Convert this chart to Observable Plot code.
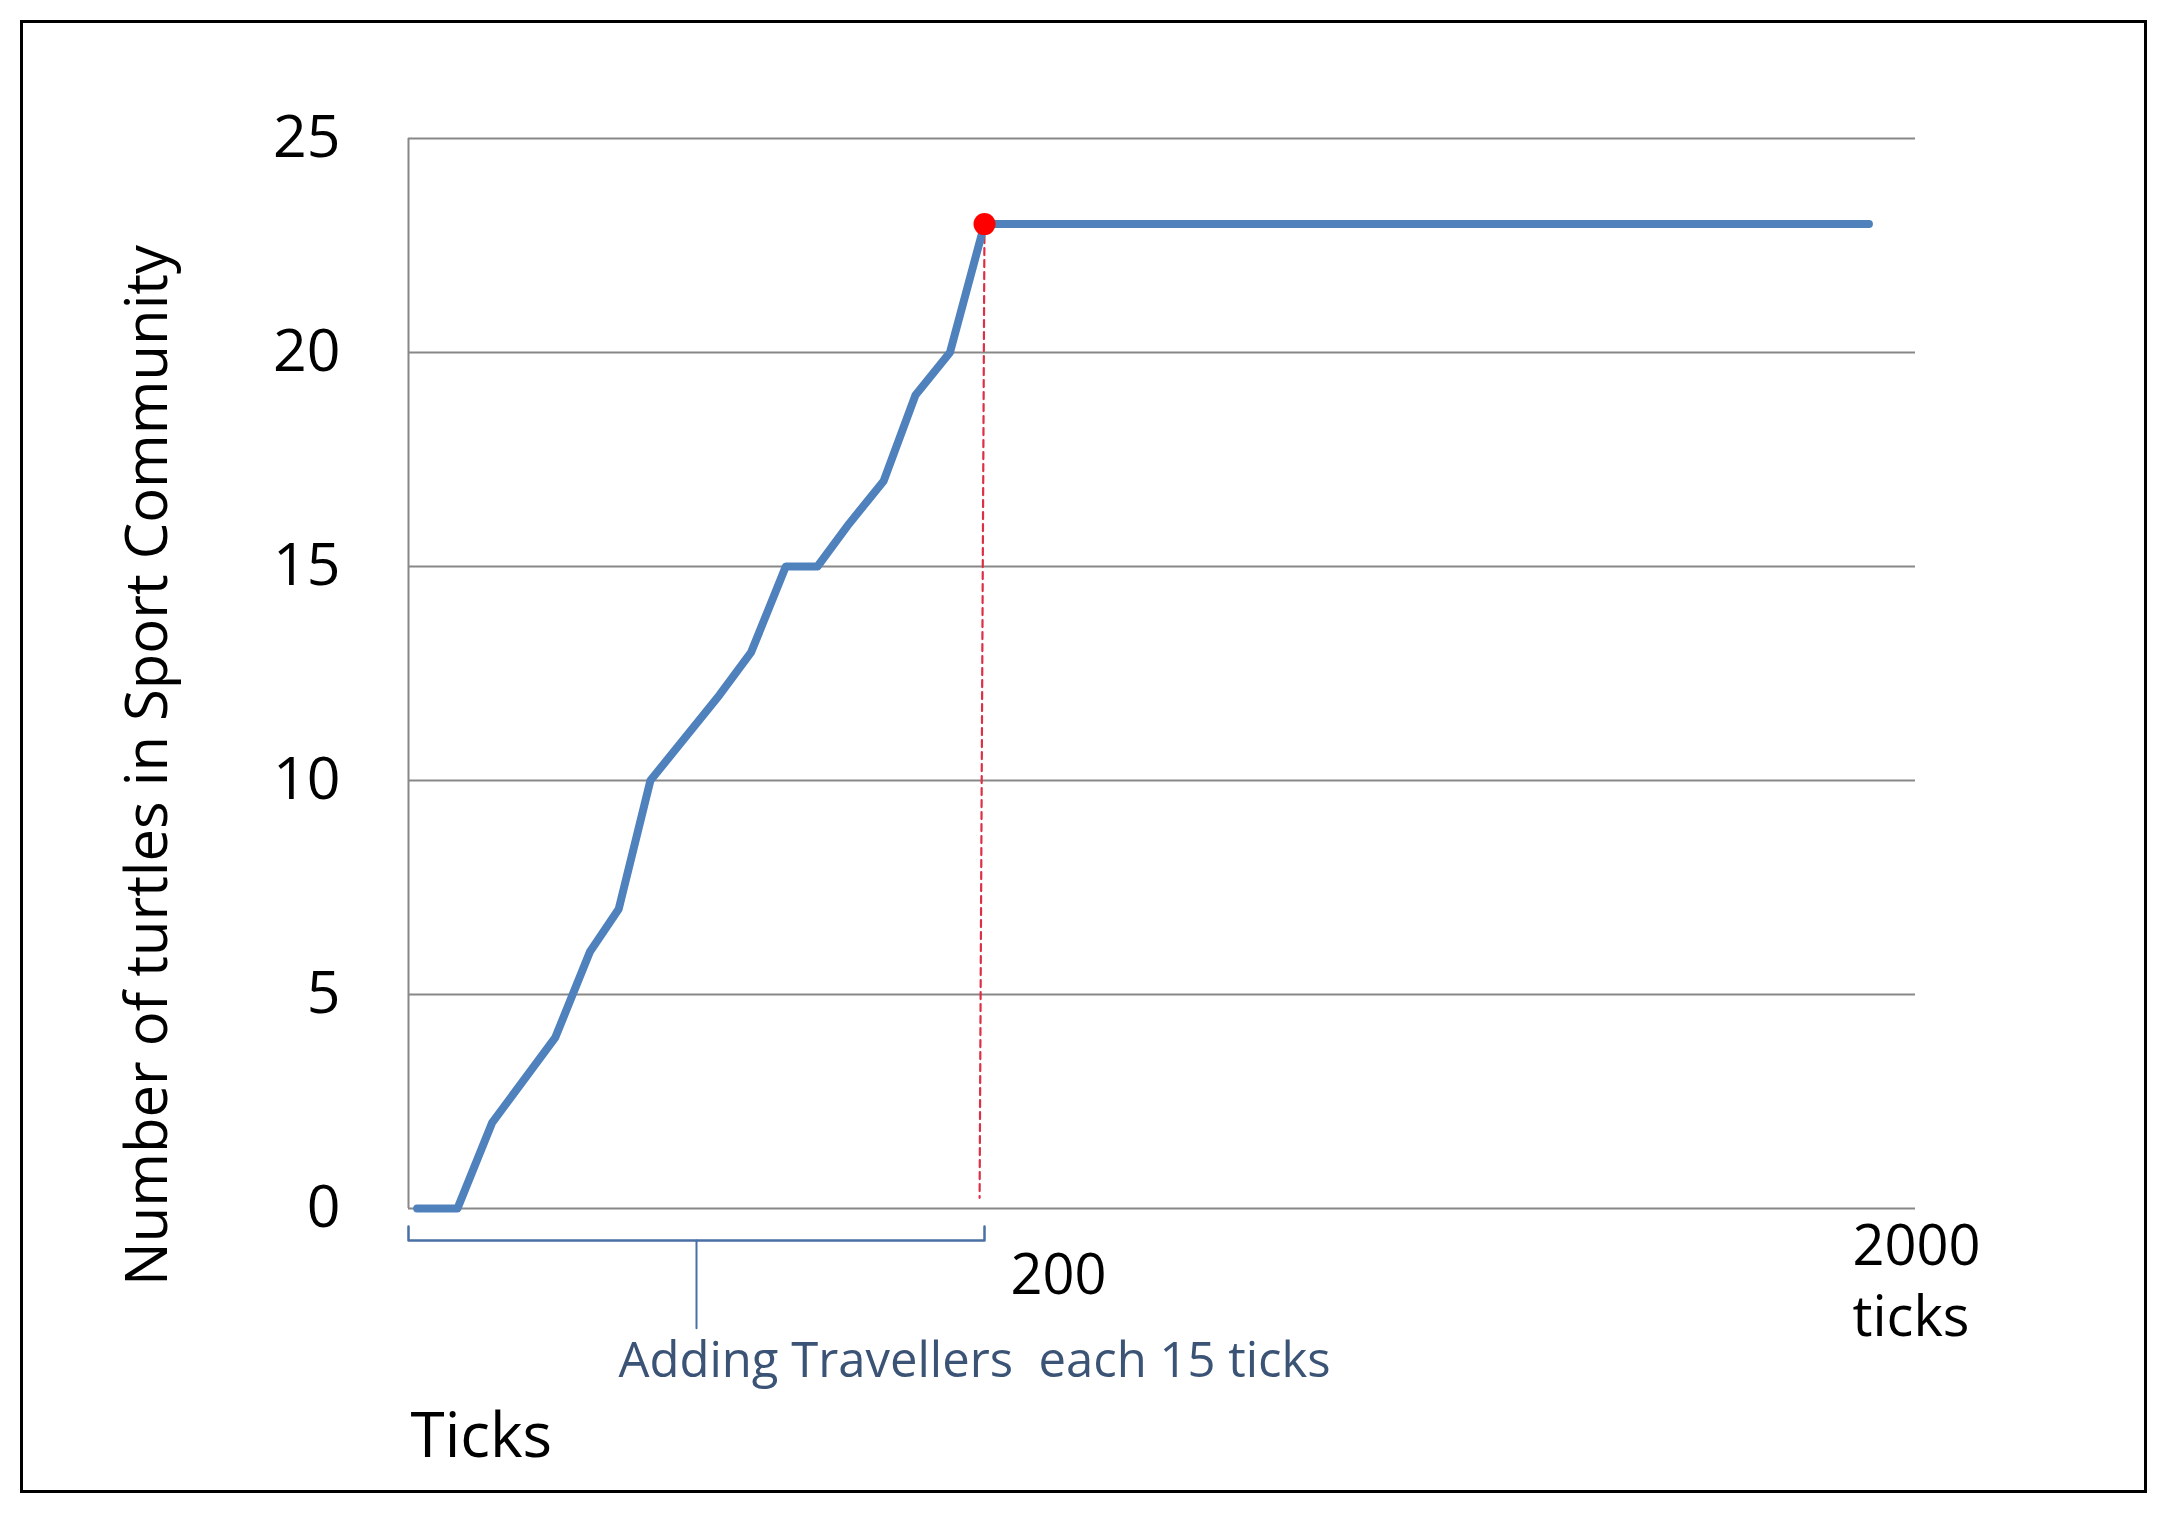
<!DOCTYPE html>
<html>
<head>
<meta charset="utf-8">
<script src="https://cdn.jsdelivr.net/npm/d3@7"></script>
<script src="https://cdn.jsdelivr.net/npm/@observablehq/plot@0.6"></script>
<style>
  html, body { margin: 0; padding: 0; background: #fff; }
  #wrap { position: relative; width: 2168px; height: 1528px; }
  #border { position: absolute; left: 20px; top: 20px; width: 2127px; height: 1473px;
            box-sizing: border-box; border: 3px solid #000; pointer-events: none; }
  #chart { position: absolute; left: 0; top: 0; }
</style>
</head>
<body>
<div id="wrap"><div id="chart"></div><div id="border"></div></div>
<script>
// ---- data ----
const tickPoints = [3, 17, 29, 40, 51, 63, 73, 84, 96, 108, 119, 131, 142, 153, 165, 176, 188, 200, 1910];
const turtles    = [0, 0, 2, 3, 4, 6, 7, 10, 11, 12, 13, 15, 15, 16, 17, 19, 20, 23, 23];
const yTicks = [0, 5, 10, 15, 20, 25];
const xBreaks = [0, 200, 2000];           // 0, end of travellers phase, end of run
const stopTick = 200;                     // red marker
const stopValue = 23;
const yTitle = "Number of turtles in Sport Community";
const xTitle = "Ticks";
const phaseLabel = "Adding Travellers\u00a0 each 15 ticks";
const tickLabel200 = "200";
const tickLabel2000 = "2000\nticks";

const series = tickPoints.map((t, i) => ({tick: t, n: turtles[i]}));

// annotation geometry in data units (bracket under 0–200, stem at its middle)
const bracket = [
  {tick: xBreaks[0], n: -0.42}, {tick: xBreaks[0], n: -0.75},
  {tick: xBreaks[1], n: -0.75}, {tick: xBreaks[1], n: -0.42}
];
const stem = [{tick: xBreaks[1] / 2, n: -0.75}, {tick: xBreaks[1] / 2, n: -2.8}];
const dashed = [{tick: stopTick, n: stopValue}, {tick: stopTick - 1.7, n: 0.25}];

const grid = "#888888";
const blue = "#4F81BD";

const chart = Plot.plot({
  width: 2168,
  height: 1528,
  marginLeft: 408,
  marginRight: 253,
  marginTop: 138,
  marginBottom: 320,
  style: {fontFamily: "'Open Sans', sans-serif", background: "transparent", color: "#000"},
  x: {type: "linear", domain: xBreaks, range: [408, 984, 1915], axis: null},
  y: {domain: [0, 25]},
  marks: [
    Plot.gridY(yTicks, {stroke: grid, strokeOpacity: 1, strokeWidth: 2}),
    Plot.ruleX([0], {y1: 0, y2: 25, stroke: grid, strokeWidth: 2}),
    Plot.axisY(yTicks, {tickSize: 0, tickPadding: 68, fontSize: 59, label: null, fill: "#000"}),
    Plot.text([yTitle], {frameAnchor: "left", textAnchor: "middle", dx: -260, dy: 92, rotate: -90, fontSize: 58, fill: "#000"}),
    // dashed red drop line
    Plot.line(dashed, {x: "tick", y: "n", stroke: "#dd2f45", strokeWidth: 2.2, strokeDasharray: "7,5"}),
    // series
    Plot.line(series, {x: "tick", y: "n", stroke: blue, strokeWidth: 8, strokeLinejoin: "round"}),
    Plot.dot([{tick: stopTick, n: stopValue}], {x: "tick", y: "n", r: 11, fill: "#ff0000", stroke: "none"}),
    // bracket annotation
    Plot.line(bracket, {x: "tick", y: "n", stroke: "#4a6fa5", strokeWidth: 2.5}),
    Plot.line(stem, {x: "tick", y: "n", stroke: "#4a6fa5", strokeWidth: 2}),
    Plot.text([{tick: xBreaks[1] / 2, n: 0, t: phaseLabel}], {x: "tick", y: "n", text: "t", textAnchor: "start",
      dx: -78, dy: 153, fontSize: 49, fill: "#3b5475"}),
    // x labels
    Plot.text([{tick: 200, n: 0, t: tickLabel200}], {x: "tick", y: "n", text: "t", dx: 74, dy: 68, fontSize: 56, fill: "#000"}),
    Plot.text([{tick: 2000, n: 0, t: tickLabel2000}], {x: "tick", y: "n", text: "t", textAnchor: "start",
      dx: -63, dy: 69, fontSize: 56, lineHeight: 1.27, fill: "#000"}),
    Plot.text([{tick: 0, n: 0, t: xTitle}], {x: "tick", y: "n", text: "t", textAnchor: "start", dx: 2, dy: 229, fontSize: 62, fill: "#000"})
  ]
});
document.getElementById("chart").appendChild(chart);
</script>
</body>
</html>
